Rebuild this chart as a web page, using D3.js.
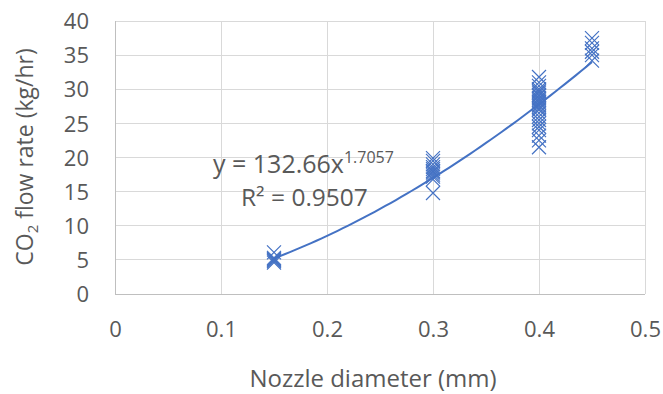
<!DOCTYPE html>
<html><head><meta charset="utf-8">
<script src="https://cdn.jsdelivr.net/npm/d3@7"></script>
<style>body{margin:0;background:#fff}svg{display:block}</style>
</head><body>
<script>
const xTicks = [0, 0.1, 0.2, 0.3, 0.4, 0.5];
const yTicks = [0, 5, 10, 15, 20, 25, 30, 35, 40];
const d015 = [4.6, 4.8, 5.0, 5.1, 5.3, 6.1];
const d030 = [14.8, 16.8, 17.2, 17.5, 17.8, 18.0, 18.3, 18.6, 19.0, 19.5, 19.9];
const d040 = [31.8, 31.0, 30.5, 30.0, 29.7, 29.5, 29.2, 29.0, 28.7, 28.5, 28.2, 28.0, 27.7, 27.5, 27.2, 27.0, 26.5, 26.0, 25.5, 25.0, 24.5, 24.0, 23.2, 22.5, 21.5];
const d045 = [37.5, 36.8, 36.0, 35.5, 35.0, 34.2];
const fitA = 132.66, fitB = 1.7057;
const fitRange = [0.15, 0.45];

const points = [].concat(
  d015.map(v => [0.15, v]), d030.map(v => [0.3, v]),
  d040.map(v => [0.4, v]), d045.map(v => [0.45, v]));

const W = 663, H = 394;
const svg = d3.select("body").append("svg").attr("width", W).attr("height", H);
const font = "'Open Sans', sans-serif";
const x = d3.scaleLinear().domain([0, 0.5]).range([115, 645]);
const y = d3.scaleLinear().domain([0, 40]).range([294, 21]);
const blue = "#4472C4";

// gridlines
svg.append("g").selectAll("line").data(yTicks).join("line")
  .attr("x1", x(0)).attr("x2", x(0.5)).attr("y1", d => y(d)).attr("y2", d => y(d))
  .attr("stroke", d => d === 0 ? "#bfbfbf" : "#d9d9d9").attr("stroke-width", 1).attr("shape-rendering", "crispEdges");
svg.append("g").selectAll("line").data(xTicks).join("line")
  .attr("x1", d => x(d)).attr("x2", d => x(d)).attr("y1", y(0)).attr("y2", y(40))
  .attr("stroke", d => d === 0 ? "#bfbfbf" : "#d9d9d9").attr("stroke-width", 1).attr("shape-rendering", "crispEdges");

// axes labels via d3 axes
const xAxis = svg.append("g").attr("transform", `translate(0,${y(0)})`)
  .call(d3.axisBottom(x).tickValues(xTicks).tickFormat(d => d3.format("")(d)).tickSize(0).tickPadding(27));
const yAxis = svg.append("g").attr("transform", `translate(${x(0)},0)`)
  .call(d3.axisLeft(y).tickValues(yTicks).tickSize(0).tickPadding(26));
[xAxis, yAxis].forEach(g => {
  g.select(".domain").remove();
  g.selectAll("text").attr("font-family", font).attr("font-size", 22).attr("fill", "#595959");
});
yAxis.selectAll("text").attr("dy", "0.35em");

// trendline
const fitX = d3.range(0, 61).map(i => fitRange[0] + (fitRange[1] - fitRange[0]) * i / 60);
svg.append("path").datum(fitX)
  .attr("d", d3.line().x(d => x(d)).y(d => y(fitA * Math.pow(d, fitB))))
  .attr("fill", "none").attr("stroke", blue).attr("stroke-width", 2);

// markers
const s = 7;
svg.append("g").selectAll("path").data(points).join("path")
  .attr("d", d => {
    const cx = x(d[0]), cy = y(d[1]);
    return `M${cx - s},${cy - s}L${cx + s},${cy + s}M${cx - s},${cy + s}L${cx + s},${cy - s}`;
  })
  .attr("stroke", blue).attr("stroke-width", 1.2).attr("fill", "none");

// equation text
const eq = svg.append("text").attr("x", 213).attr("y", 173).attr("font-family", font)
  .attr("font-size", 25).attr("fill", "#595959");
eq.append("tspan").text("y = 132.66x");
eq.append("tspan").attr("font-size", 16).attr("dy", -10).text(fitB.toString());
svg.append("text").attr("x", 241).attr("y", 206).attr("font-family", font)
  .attr("font-size", 24.5).attr("fill", "#595959").text("R² = 0.9507");

// axis titles
svg.append("text").attr("x", 373).attr("y", 387).attr("text-anchor", "middle")
  .attr("font-family", font).attr("font-size", 24).attr("fill", "#595959").text("Nozzle diameter (mm)");
const yt = svg.append("text").attr("transform", `translate(33,157) rotate(-90)`).attr("text-anchor", "middle")
  .attr("font-family", font).attr("font-size", 23).attr("fill", "#595959");
yt.append("tspan").text("CO");
yt.append("tspan").attr("font-size", 15).attr("dy", 5).text("2");
yt.append("tspan").attr("dy", -5).text(" flow rate (kg/hr)");
</script>
</body></html>
